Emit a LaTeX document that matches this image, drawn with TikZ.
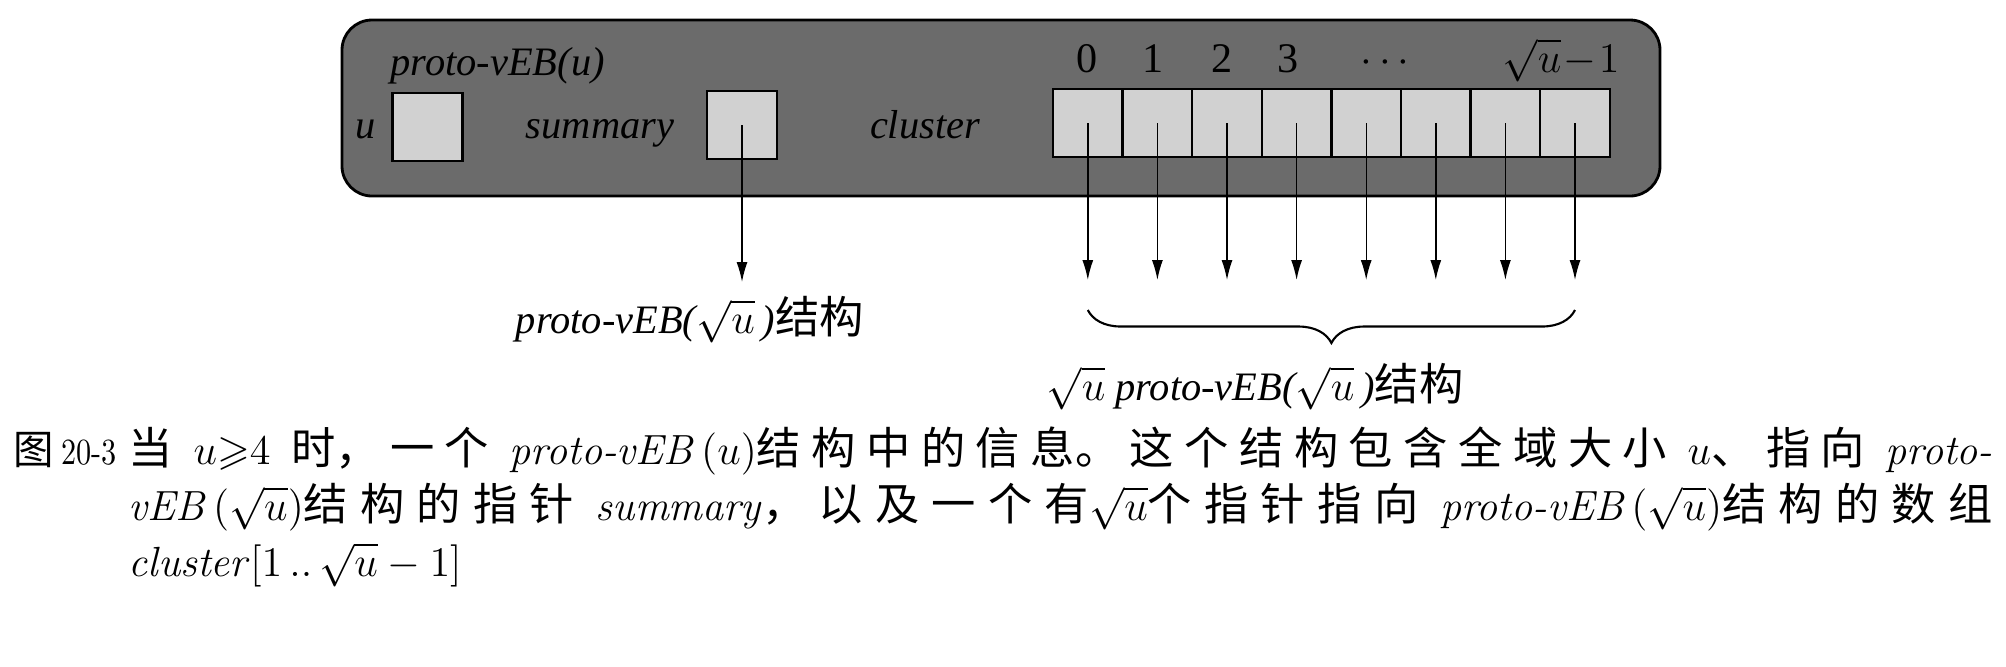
\documentclass[tikz,border=0pt]{standalone}
\usepackage{fontspec}
\usepackage{amssymb}
\newfontfamily\diagfont{Liberation Serif}
\newfontfamily\cjk{Noto Sans CJK SC}
\usetikzlibrary{arrows.meta,decorations.pathreplacing}
\newcommand{\lblfont}{\diagfont\itshape\fontsize{11.5}{13}\selectfont}
\newcommand{\idxfont}{\diagfont\fontsize{12}{13}\selectfont}
\newcommand{\capfont}{\fontsize{12}{16}\selectfont}
\newcommand{\zh}[1]{{\cjk\upshape\fontsize{12.6}{16}\selectfont #1}}
\tikzstyle{frame} = [rectangle, draw, line width=0.8pt, fill=black!58, rounded corners=0.3cm,
    minimum width=13.18cm, minimum height=1.76cm]
\tikzstyle{slot} = [rectangle, draw, line width=0.7pt, fill=black!18, inner sep=0pt,
    minimum width=0.696cm, minimum height=0.68cm]
\tikzstyle{lbl} = [font=\lblfont, inner sep=0pt, anchor=base]
\tikzstyle{idx} = [font=\idxfont, inner sep=0pt, anchor=base]
\tikzstyle{capt} = [font=\capfont, inner sep=0pt, anchor=base west]
\tikzstyle{pointer} = [draw, -{Latex[length=2mm, width=1.1mm]}]
\tikzstyle{brace} = [draw, semithick, decorate, decoration={brace, mirror, amplitude=0.33cm}]

\begin{document}
\begin{tikzpicture}[node distance = 0.696cm]
 \useasboundingbox (0,0) rectangle (20.06,-6.66);
 \node [frame] (veb) at (10.01,-1.08) {};
 \node [lbl, anchor=base west] (title) at (3.90,-0.75) {proto-vEB(u)};
 \node [slot] (usq) at (4.275,-1.27) {};
 \node [lbl] (ulbl) at (3.66,-1.38) {u};
 \node [lbl] (sumlbl) at (6.00,-1.38) {summary};
 \node [slot] (sum) at (7.42,-1.25) {};
 \node [lbl] (clulbl) at (9.25,-1.38) {cluster};
 \node [slot] (c0) at (10.878,-1.23) {};
    \node [slot, right of=c0] (c1) {};
    \node [slot, right of=c1] (c2) {};
    \node [slot, right of=c2] (c3) {};
    \node [slot, right of=c3] (c4) {};
    \node [slot, right of=c4] (c5) {};
    \node [slot, right of=c5] (c6) {};
    \node [slot, right of=c6] (c7) {};
 \node [idx] (i0) at (10.87,-0.72) {0};
 \node [idx] (i1) at (11.53,-0.72) {1};
 \node [idx] (i2) at (12.22,-0.72) {2};
 \node [idx] (i3) at (12.88,-0.72) {3};
 \node [idx] (idots) at (13.85,-0.72) {$\cdots$};
 \node [idx] (ilast) at (15.61,-0.72) {$\sqrt{u}\!-\!1$};
 \coordinate [below of=sum, node distance=1.57cm] (sumend);
 \coordinate [below of=c0, node distance=1.57cm] (e0);
 \coordinate [below of=c1, node distance=1.57cm] (e1);
 \coordinate [below of=c2, node distance=1.57cm] (e2);
 \coordinate [below of=c3, node distance=1.57cm] (e3);
 \coordinate [below of=c4, node distance=1.57cm] (e4);
 \coordinate [below of=c5, node distance=1.57cm] (e5);
 \coordinate [below of=c6, node distance=1.57cm] (e6);
 \coordinate [below of=c7, node distance=1.57cm] (e7);
 \node [lbl] (sumtxt) at (6.90,-3.33) {proto-vEB($\sqrt{u}\,$)\zh{结构}};
 \node [lbl] (clutxt) at (12.55,-4.00) {$\sqrt{u}$ proto-vEB($\sqrt{u}\,$)\zh{结构}};
 \path [pointer] (sum.center) -- (sumend);
    \path [pointer] (c0.center) -- (e0);
    \path [pointer] (c1.center) -- (e1);
    \path [pointer] (c2.center) -- (e2);
    \path [pointer] (c3.center) -- (e3);
    \path [pointer] (c4.center) -- (e4);
    \path [pointer] (c5.center) -- (e5);
    \path [pointer] (c6.center) -- (e6);
    \path [pointer] (c7.center) -- (e7);
 \path [brace] ([yshift=-0.30cm]e0) -- ([yshift=-0.30cm]e7);
 % caption
 \node [capt] (fignum) at (0.13,-4.64) {{\cjk\fontsize{11.5}{16}\selectfont 图}\,{\fontsize{10.5}{16}\selectfont\scalebox{0.82}[1]{20-3}}};
 \node [capt] (capbody) at (1.28,-4.64) {\begin{minipage}[t]{18.64cm}\capfont
   \XeTeXlinebreaklocale "zh"\XeTeXlinebreakskip=0pt plus 3pt\tolerance=10000\parindent=0pt
   \zh{当} $u{\geqslant}4$ \zh{时，一个} \textit{proto-vEB}\,$(u)$\zh{结构中的信息。这个结构包含全域大小} $u$\zh{、指向} \textit{proto-}\linebreak
   \textit{vEB}\,$(\sqrt{u})$\zh{结构的指针} \textit{summary}\zh{，以及一个有}$\sqrt{u}$\zh{个指针指向} \textit{proto-vEB}\,$(\sqrt{u})$\zh{结构的数组}\linebreak
   \textit{cluster}$[1\,..\,\sqrt{u}-1]$
 \end{minipage}};
\end{tikzpicture}
\end{document}
